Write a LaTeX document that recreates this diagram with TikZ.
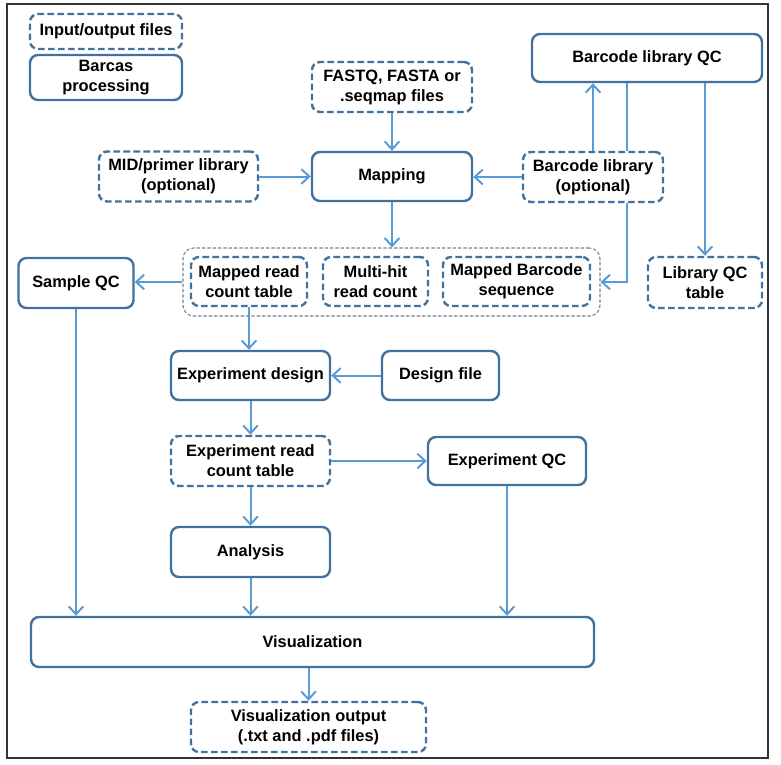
\documentclass[tikz,border=0pt]{standalone}
\usepackage{fontspec}
\setmainfont{Liberation Sans}
\usetikzlibrary{arrows.meta}
\definecolor{boxblue}{HTML}{41719C}
\definecolor{arrowblue}{HTML}{5B9BD5}
\definecolor{groupgray}{HTML}{6F7F96}
\begin{document}
\begin{tikzpicture}[x=0.75pt,y=-0.75pt,
    proc/.style={draw=boxblue, line width=1.8pt, rounded corners=6pt, fill=white, align=center,
      inner sep=0pt, font=\bfseries\fontsize{12.3}{15}\selectfont},
    iofile/.style={proc, dash pattern=on 5pt off 2.5pt},
    flow/.style={draw=arrowblue, line width=1.5pt, -{Straight Barb[length=6pt,width=11pt]}},
    link/.style={draw=arrowblue, line width=1.5pt}]
    \useasboundingbox (0,0) rectangle (781,764);
    \draw[black!80, line width=0.8pt] (7,4) rectangle (768,758);

    \node[iofile, minimum width=114pt, minimum height=26.25pt] (io) at (106,31.5) {Input/output files};
    \node[proc, minimum width=114pt, minimum height=33.75pt] (barcas) at (106,77.5) {Barcas\\processing};
    \node[iofile, minimum width=120pt, minimum height=37.5pt] (fastq) at (392,87) {FASTQ, FASTA or\\.seqmap files};
    \node[proc, minimum width=120pt, minimum height=36.75pt] (mapping) at (392,176.5) {Mapping};
    \node[iofile, minimum width=119.25pt, minimum height=37.5pt] (mid) at (178.5,176.5) {MID/primer library\\(optional)};
    \node[iofile, minimum width=105pt, minimum height=37.5pt] (barlib) at (593,177) {Barcode library\\(optional)};
    \node[proc, minimum width=172.5pt, minimum height=36pt] (barqc) at (647,58) {Barcode library QC};
    \node[draw=groupgray, line width=0.8pt, dash pattern=on 2.5pt off 1.5pt, rounded corners=8pt,
      minimum width=312.75pt, minimum height=51pt] (group) at (391.5,282) {};
    \node[iofile, minimum width=87pt, minimum height=36.75pt] (mrc) at (249,281.5) {Mapped read\\count table};
    \node[iofile, minimum width=78.75pt, minimum height=36.75pt] (multi) at (375.5,281.5) {Multi-hit\\read count};
    \node[iofile, minimum width=110.25pt, minimum height=36.75pt] (mbs) at (516.5,281.5) {Mapped Barcode\\sequence};
    \node[iofile, minimum width=85.5pt, minimum height=38.25pt] (libqc) at (705,282.5) {Library QC\\table};
    \node[proc, minimum width=86.25pt, minimum height=37.5pt] (sampleqc) at (76,283) {Sample QC};
    \node[proc, minimum width=119.25pt, minimum height=36.75pt] (expdesign) at (250.5,375.5) {Experiment design};
    \node[proc, minimum width=87.75pt, minimum height=36.75pt] (designfile) at (440.5,375.5) {Design file};
    \node[iofile, minimum width=119.25pt, minimum height=37.5pt] (erct) at (250.5,461) {Experiment read\\count table};
    \node[proc, minimum width=118.5pt, minimum height=36pt] (expqc) at (507,461) {Experiment QC};
    \node[proc, minimum width=119.25pt, minimum height=37.5pt] (analysis) at (250.5,552) {Analysis};
    \node[proc, minimum width=422.25pt, minimum height=37.5pt] (viz) at (312.5,642) {Visualization};
    \node[iofile, minimum width=176.25pt, minimum height=37.5pt] (vizout) at (308.5,727) {Visualization output\\(.txt and .pdf files)};

    \draw[flow] (fastq) -- (mapping);
    \draw[flow] (mid.east) -- (mid.east -| mapping.west);
    \draw[flow] (barlib.west) -- (barlib.west -| mapping.east);
    \draw[flow] (barlib.north) -- (barlib.north |- barqc.south);
    \draw[link] ([xshift=25.5pt]barlib.north |- barqc.south) -- ([xshift=25.5pt]barlib.north);
    \draw[flow] ([xshift=25.5pt]barlib.south) |- (group.east);
    \draw[flow] (libqc.north |- barqc.south) -- (libqc.north);
    \draw[flow] (mapping.south) -- (mapping.south |- group.north);
    \draw[flow] (group.west) -- (group.west -| sampleqc.east);
    \draw[flow] (mrc.south) -- (mrc.south |- expdesign.north);
    \draw[flow] (designfile) -- (expdesign);
    \draw[flow] (expdesign) -- (erct);
    \draw[flow] (erct) -- (expqc);
    \draw[flow] (erct) -- (analysis);
    \draw[flow] (sampleqc.south) -- (sampleqc.south |- viz.north);
    \draw[flow] (analysis) -- (analysis |- viz.north);
    \draw[flow] (expqc) -- (expqc |- viz.north);
    \draw[flow] (vizout.north |- viz.south) -- (vizout.north);
\end{tikzpicture}
\end{document}
